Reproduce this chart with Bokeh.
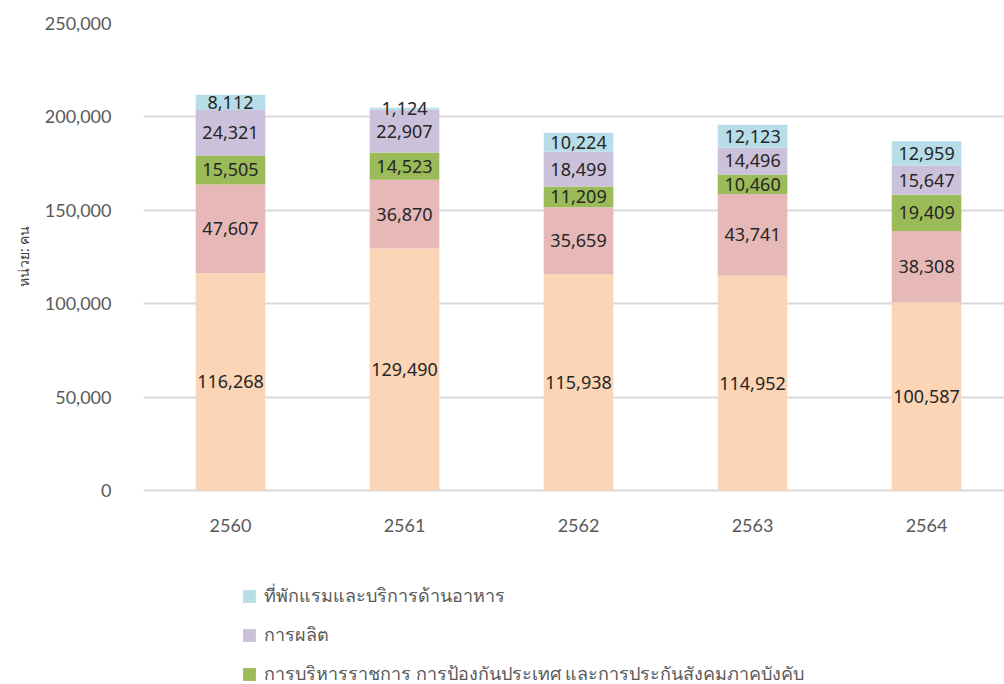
from bokeh.plotting import figure
from bokeh.models import (ColumnDataSource, Range1d, FixedTicker, NumeralTickFormatter,
                          Legend, LegendItem, Title)
from bokeh.core.properties import value
from bokeh.embed import file_html
from bokeh.resources import INLINE

years = ["2560", "2561", "2562", "2563", "2564"]
series_names = [
    "การขายส่งและการขายปลีก",
    "เกษตรกรรม การป่าไม้ และการประมง",
    "การบริหารราชการ การป้องกันประเทศ และการประกันสังคมภาคบังคับ",
    "การผลิต",
    "ที่พักแรมและบริการด้านอาหาร",
]
s1 = [116268, 129490, 115938, 114952, 100587]
s2 = [47607, 36870, 35659, 43741, 38308]
s3 = [15505, 14523, 11209, 10460, 19409]
s4 = [24321, 22907, 18499, 14496, 15647]
s5 = [8112, 1124, 10224, 12123, 12959]
colors = ["#FBD5B5", "#E6B9B8", "#9BBB59", "#CCC1DA", "#B7DEE8"]
y_ticks = [0, 50000, 100000, 150000, 200000, 250000]
y_label = "หน่วย: คน"

series = [s1, s2, s3, s4, s5]
xs = list(range(len(years)))

W, H = 1004, 684
p = figure(width=W, height=H, output_backend="svg", toolbar_location=None,
           x_range=Range1d(-0.5, 4.448), y_range=Range1d(-103854, 250000),
           min_border_left=143, min_border_right=0, min_border_top=23,
           min_border_bottom=0)
p.outline_line_color = None
p.background_fill_color = "white"
p.xaxis.visible = False

renderers = []
bottoms = [0] * len(years)
for name, vals, col in zip(series_names, series, colors):
    tops = [b + v for b, v in zip(bottoms, vals)]
    src = ColumnDataSource(dict(x=xs, bottom=bottoms, top=tops,
                                mid=[(b + t) / 2 for b, t in zip(bottoms, tops)],
                                lab=[f"{v:,}" for v in vals]))
    r = p.vbar(x="x", bottom="bottom", top="top", width=0.4, source=src,
               fill_color=col, line_color=None)
    p.text(x="x", y="mid", text="lab", source=src, text_align="center",
           text_baseline="middle", text_font=value("Noto Sans"),
           text_font_size="18px", text_color="#262626")
    renderers.append((name, r))
    bottoms = tops

# category labels under the baseline
ysrc = ColumnDataSource(dict(x=xs, y=[0] * len(xs), t=years))
p.text(x="x", y="y", text="t", source=ysrc, y_offset=35, text_align="center",
       text_baseline="middle", text_font=value("Lato"), text_font_size="18px",
       text_color="#595959")

p.yaxis.ticker = FixedTicker(ticks=y_ticks)
p.yaxis.formatter = NumeralTickFormatter(format="0,0")
p.yaxis.axis_line_color = None
p.yaxis.major_tick_line_color = None
p.yaxis.minor_tick_line_color = None
p.yaxis.major_label_standoff = 26
p.yaxis.major_label_text_font = "Lato"
p.yaxis.major_label_text_font_size = "18px"
p.yaxis.major_label_text_color = "#595959"

p.xgrid.grid_line_color = None
p.ygrid.ticker = FixedTicker(ticks=y_ticks)
p.ygrid.grid_line_color = "#D9D9D9"
p.ygrid.grid_line_width = 2

# axis title, on the left side, aligned with the value range
p.add_layout(Title(text=y_label, align="right", offset=202, standoff=18,
                   text_font="Noto Sans", text_font_style="normal",
                   text_font_size="14px", text_color="#404040"), "left")

items = [LegendItem(label=n, renderers=[r]) for n, r in reversed(renderers)][:3]
legend = Legend(items=items, location=(98, -4), orientation="vertical",
                glyph_width=16, glyph_height=16,
                spacing=10, padding=0, label_standoff=7,
                label_text_font="Noto Sans", label_text_font_size="18px",
                label_text_color="#595959", border_line_color=None,
                background_fill_alpha=0)
p.add_layout(legend, "center")

open("out.html", "w").write(file_html(p, INLINE))
